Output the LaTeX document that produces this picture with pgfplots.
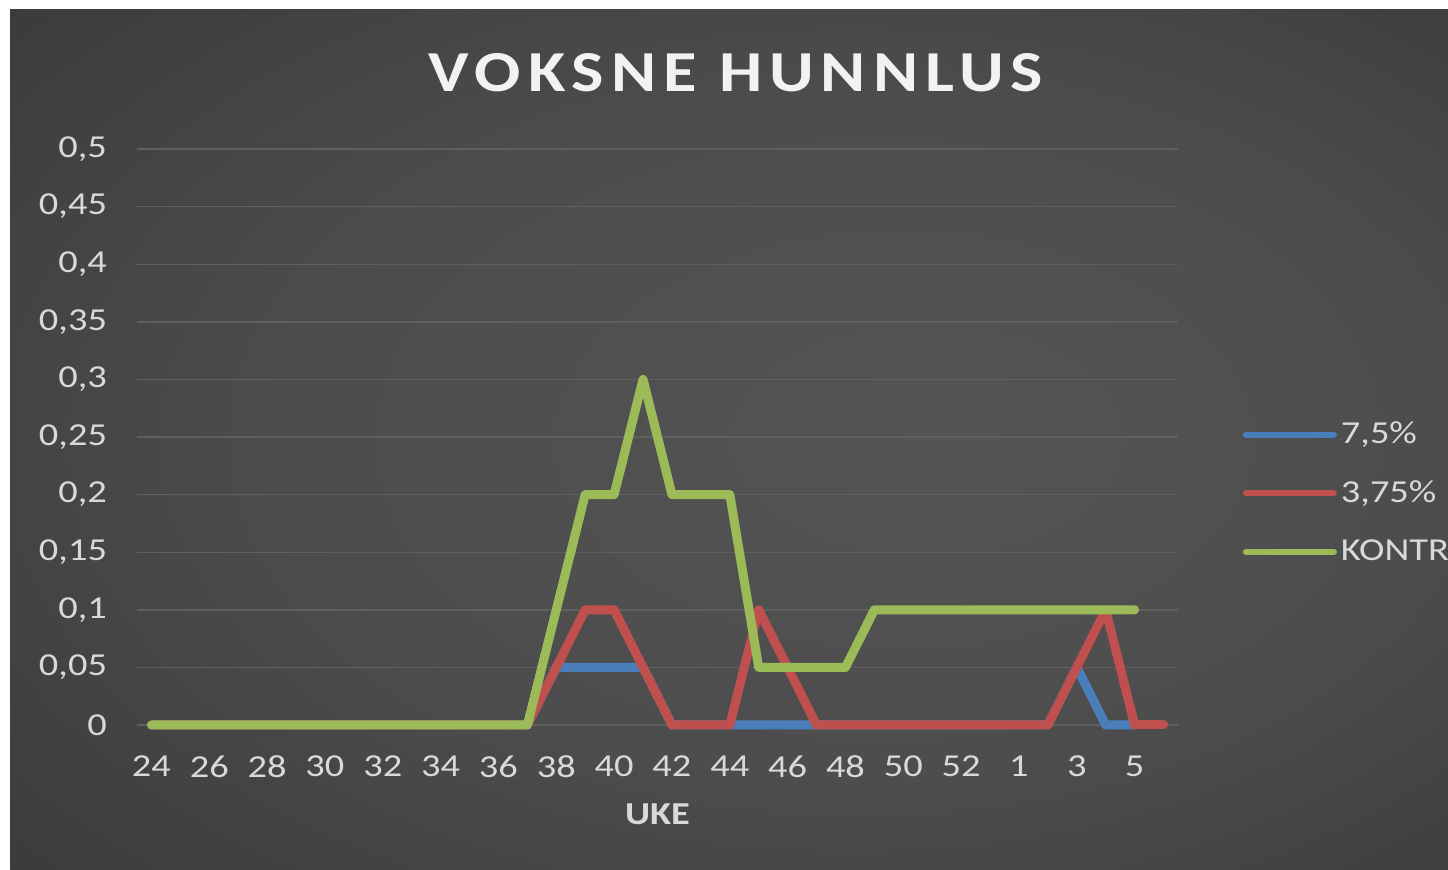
\documentclass[border=0pt]{standalone}
\usepackage{fontspec}
\setmainfont[FakeStretch=1.2]{Carlito}
\newfontfamily\titlefont[FakeStretch=1.18,LetterSpace=12]{Carlito}
\usepackage{pgfplots}
\pgfplotsset{compat=1.18}
\definecolor{bluec}{RGB}{74,126,187}
\definecolor{redc}{RGB}{192,80,77}
\definecolor{greenc}{RGB}{155,187,89}
\definecolor{labelcol}{RGB}{217,217,217}
\definecolor{titlecol}{RGB}{242,242,242}
\definecolor{gridcol}{RGB}{95,95,95}
\pgfdeclareradialshading{bgshade}{\pgfpoint{8bp}{0bp}}{rgb(0bp)=(0.33,0.33,0.33); rgb(20bp)=(0.30,0.30,0.30); rgb(50bp)=(0.18,0.18,0.18)}

\pgfplotstableread{
i blue red green
0 0 0 0
1 0 0 0
2 0 0 0
3 0 0 0
4 0 0 0
5 0 0 0
6 0 0 0
7 0 0 0
8 0 0 0
9 0 0 0
10 0 0 0
11 0 0 0
12 0 0 0
13 0 0 0
14 0.05 0.05 0.1
15 0.05 0.1 0.2
16 0.05 0.1 0.2
17 0.05 0.05 0.3
18 0 0 0.2
19 0 0 0.2
20 0 0 0.2
21 0 0.1 0.05
22 0 0.05 0.05
23 0 0 0.05
24 0 0 0.05
25 0 0 0.1
26 0 0 0.1
27 0 0 0.1
28 0 0 0.1
29 0 0 0.1
30 0 0 0.1
31 0 0 0.1
32 0.05 0.05 0.1
33 0 0.1 0.1
34 0 0 0.1
}\datatab
\pgfplotstableread{
i red
34 0
35 0
}\redtail

\begin{document}
\begin{tikzpicture}
\clip (0,0) rectangle (724pt,434.5pt);
\fill[white] (0,0) rectangle (724pt,434.5pt);
\shade[shading=bgshade] (5pt,0pt) rectangle (724pt,429.5pt);
\node[font=\titlefont\bfseries\fontsize{29}{35}\selectfont, text=titlecol] at (368pt,398pt) {VOKSNE HUNNLUS};
\begin{axis}[
  at={(68.5pt,72pt)}, anchor=south west,
  scale only axis, width=520.5pt, height=288pt,
  xmin=-0.5, xmax=35.5, ymin=0, ymax=0.5,
  clip=false,
  axis line style={draw=none},
  major tick length=0pt,
  ytick={0,0.05,0.1,0.15,0.2,0.25,0.3,0.35,0.4,0.45,0.5},
  yticklabels={{0},{0,05},{0,1},{0,15},{0,2},{0,25},{0,3},{0,35},{0,4},{0,45},{0,5}},
  xtick={0,2,...,34},
  xticklabels={24,26,28,30,32,34,36,38,40,42,44,46,48,50,52,1,3,5},
  tick label style={font=\fontsize{16}{19}\selectfont, text=labelcol},
  yticklabel style={xshift=-11.5pt},
  xticklabel style={yshift=-12pt},
  ymajorgrids, grid style={color=gridcol, line width=0.7pt},
  xlabel={\bfseries UKE},
  xlabel style={at={(axis description cs:0.5,-0.1545)}, anchor=center, font=\fontsize{16}{19}\selectfont, text=labelcol},
  legend style={at={(axis description cs:1.062,0.403)}, anchor=west, draw=none, fill=none, text=labelcol, font=\fontsize{16}{19}\selectfont, row sep=13pt, inner sep=0pt, cells={anchor=west}},
  legend image code/.code={\draw[#1, line width=3pt, line cap=round] (0pt,0pt) -- (44pt,0pt);},
  every axis plot/.append style={line width=4.5pt, line cap=round, line join=round},
]
\addplot[bluec, no markers] table[x=i, y=blue] {\datatab};
\addlegendentry{7,5\%}
\addplot[redc, no markers] table[x=i, y=red] {\datatab};
\addlegendentry{3,75\%}
\addplot[greenc, no markers] table[x=i, y=green] {\datatab};
\addlegendentry{KONTROLL}
\addplot[redc, no markers, forget plot] table[x=i, y=red] {\redtail};
\end{axis}
\end{tikzpicture}
\end{document}
